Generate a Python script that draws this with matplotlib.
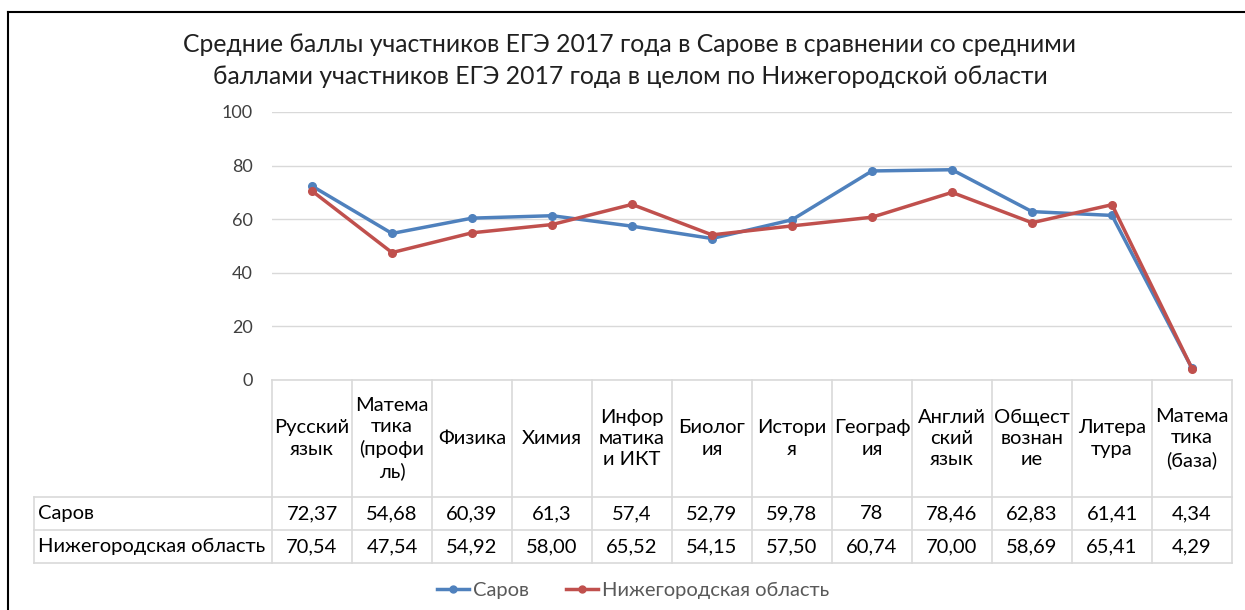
import matplotlib
matplotlib.use('Agg')
import matplotlib.pyplot as plt
from matplotlib.lines import Line2D

plt.rcParams['font.family'] = ['Lato', 'DejaVu Sans']

subjects = ['Русский\nязык', 'Матема\nтика\n(профи\nль)', 'Физика', 'Химия',
            'Инфор\nматика\nи ИКТ', 'Биолог\nия', 'Истори\nя', 'Географ\nия',
            'Англий\nский\nязык', 'Общест\nвознан\nие', 'Литера\nтура',
            'Матема\nтика\n(база)']
sarov = [72.37, 54.68, 60.39, 61.3, 57.4, 52.79, 59.78, 78, 78.46, 62.83, 61.41, 4.34]
nizh = [70.54, 47.54, 54.92, 58.00, 65.52, 54.15, 57.50, 60.74, 70.00, 58.69, 65.41, 4.29]
sarov_txt = ['72,37', '54,68', '60,39', '61,3', '57,4', '52,79', '59,78', '78',
             '78,46', '62,83', '61,41', '4,34']
nizh_txt = ['70,54', '47,54', '54,92', '58,00', '65,52', '54,15', '57,50', '60,74',
            '70,00', '58,69', '65,41', '4,29']
series_names = ['Саров', 'Нижегородская область']
yticks = [0, 20, 40, 60, 80, 100]

BLUE = '#4F81BD'
RED = '#C0504D'
GRID = '#D9D9D9'

W, H = 1245, 610
fig = plt.figure(figsize=(W / 100, H / 100), dpi=100)

def fx(px):
    return px / W

def fy(py):
    return 1 - py / H

# outer frame
fig.add_artist(Line2D([fx(8), fx(8)], [fy(12), fy(610)], color='black', lw=1.5))
fig.add_artist(Line2D([fx(8), fx(1245)], [fy(12), fy(12)], color='black', lw=1.5))

x0, x1 = 272, 1232
ytop, ybot = 112, 380
ax = fig.add_axes([fx(x0), fy(ybot), fx(x1) - fx(x0), fy(ytop) - fy(ybot)])
n = len(subjects)
xs = list(range(n))
ax.plot(xs, sarov, color=BLUE, lw=2.5, marker='o', ms=5.5, zorder=3)
ax.plot(xs, nizh, color=RED, lw=2.5, marker='o', ms=5.5, zorder=3)
ax.set_xlim(-0.5, n - 0.5)
ax.set_ylim(0, 100)
ax.set_yticks(yticks)
ax.set_yticklabels([str(v) for v in yticks], fontsize=13, color='#404040')
ax.tick_params(axis='y', length=0, pad=14)
ax.set_xticks([])
for s in ax.spines.values():
    s.set_visible(False)
ax.grid(axis='y', color=GRID, lw=1)
ax.set_axisbelow(True)

fig.text(0.506, fy(45), 'Средние баллы участников ЕГЭ 2017 года в Сарове в сравнении со средними',
         ha='center', va='center', fontsize=17.8, color='#202020')
fig.text(0.506, fy(76), 'баллами участников ЕГЭ 2017 года в целом по Нижегородской области',
         ha='center', va='center', fontsize=17.8, color='#202020')

# data table
col_w = (x1 - x0) / n
r_head, r1, r2, r3 = 380, 497, 530, 563
lx = 34
tl = dict(color=GRID, lw=1.2)
fig.add_artist(Line2D([fx(x0), fx(x1)], [fy(r_head), fy(r_head)], **tl))
for yy in (r1, r2, r3):
    fig.add_artist(Line2D([fx(lx), fx(x1)], [fy(yy), fy(yy)], **tl))
fig.add_artist(Line2D([fx(lx), fx(lx)], [fy(r1), fy(r3)], **tl))
for i in range(n + 1):
    xx = x0 + i * col_w
    fig.add_artist(Line2D([fx(xx), fx(xx)], [fy(r_head), fy(r3)], **tl))

fs = 14.5
for i in range(n):
    cx = x0 + (i + 0.5) * col_w
    fig.text(fx(cx), fy((r_head + r1) / 2), subjects[i], ha='center', va='center',
             fontsize=fs, linespacing=1.3, color='black')
    fig.text(fx(cx), fy((r1 + r2) / 2), sarov_txt[i], ha='center', va='center',
             fontsize=fs, color='black')
    fig.text(fx(cx), fy((r2 + r3) / 2), nizh_txt[i], ha='center', va='center',
             fontsize=fs, color='black')
fig.text(fx(38), fy((r1 + r2) / 2), series_names[0], ha='left', va='center', fontsize=fs)
fig.text(fx(38), fy((r2 + r3) / 2), series_names[1], ha='left', va='center', fontsize=fs)

# legend
handles = [Line2D([], [], color=BLUE, lw=2.5, marker='o', ms=5),
           Line2D([], [], color=RED, lw=2.5, marker='o', ms=5)]
leg = fig.legend(handles, series_names, loc='center', bbox_to_anchor=(fx(633), fy(590)),
                 ncol=2, frameon=False, fontsize=14.5, handlelength=1.6, handletextpad=0.2,
                 columnspacing=1.8, labelcolor='#595959')

fig.savefig('out.png', dpi=100)
